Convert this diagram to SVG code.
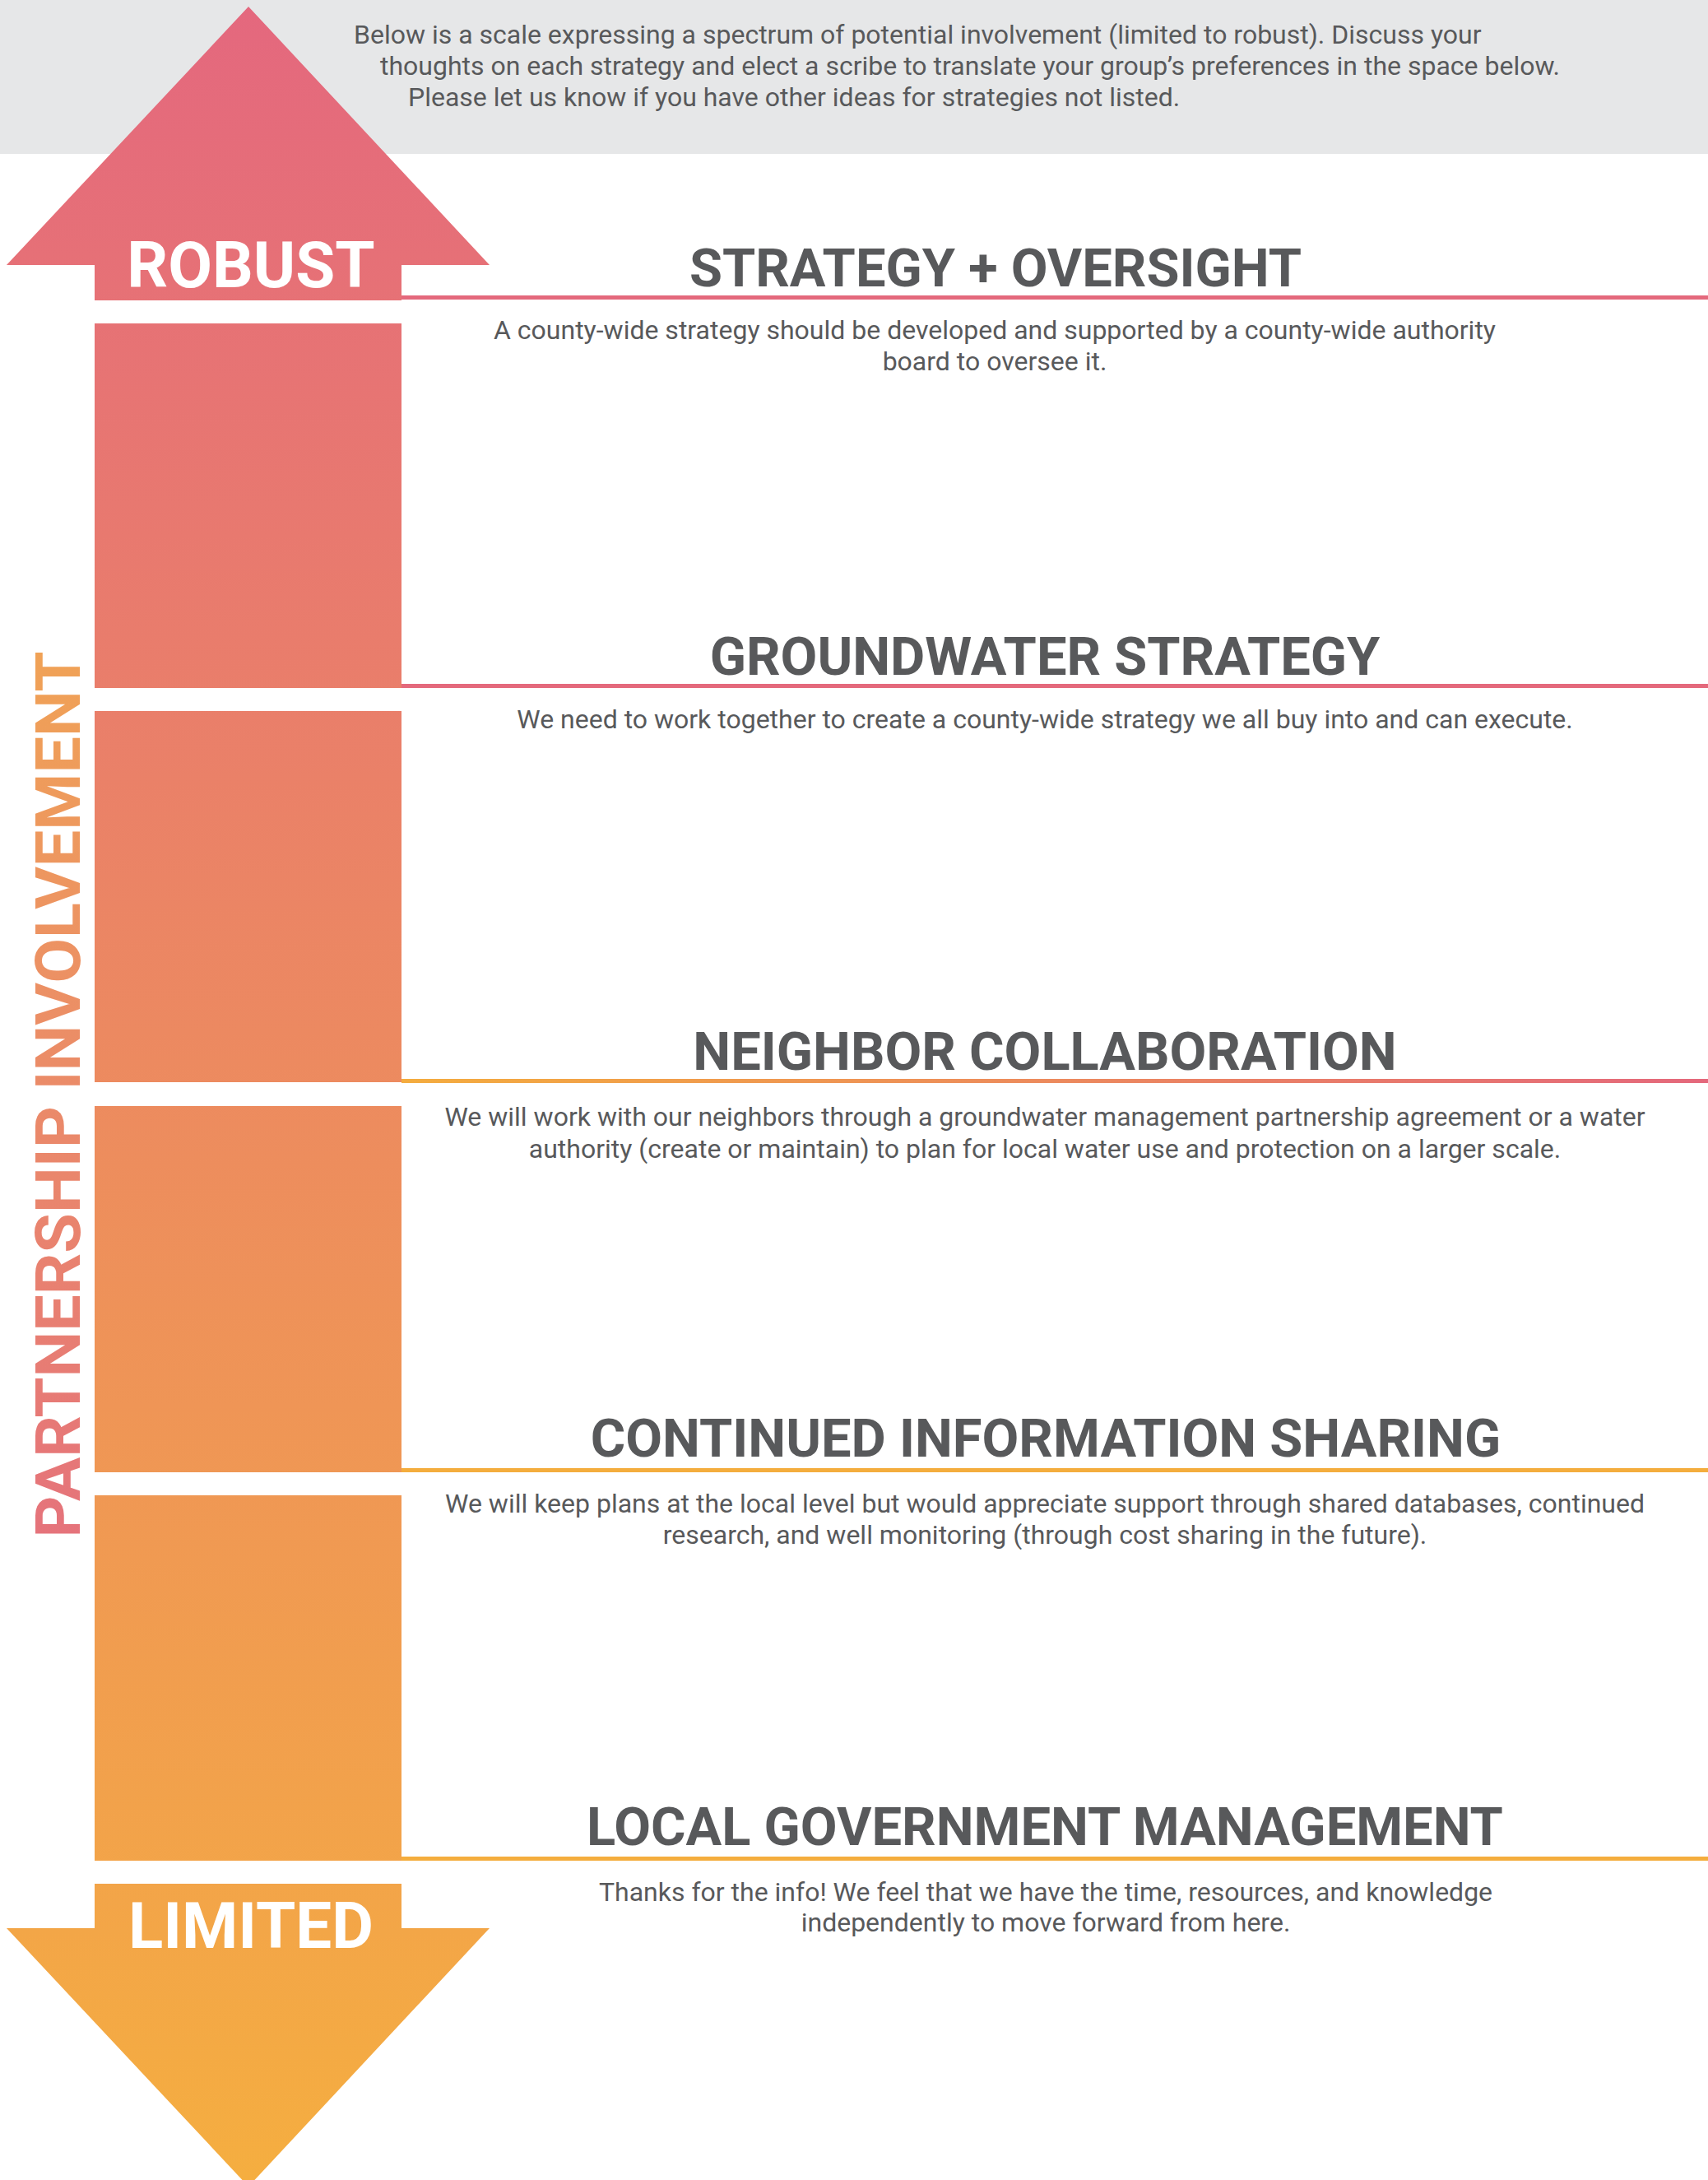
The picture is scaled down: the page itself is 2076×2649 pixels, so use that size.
<svg xmlns="http://www.w3.org/2000/svg" width="2076" height="2649" viewBox="0 0 2076 2649">
  <defs>
    <linearGradient id="col" gradientUnits="userSpaceOnUse" x1="0" y1="8" x2="0" y2="2649">
      <stop offset="0" stop-color="#e4687e"/>
      <stop offset="1" stop-color="#f5ae40"/>
    </linearGradient>
    <linearGradient id="vtext" gradientUnits="userSpaceOnUse" x1="-538" y1="0" x2="538" y2="0">
      <stop offset="0" stop-color="#e5737b"/>
      <stop offset="1" stop-color="#f0a256"/>
    </linearGradient>
    <linearGradient id="mix" x1="0" y1="0" x2="1" y2="0">
      <stop offset="0" stop-color="#f4ac3e"/>
      <stop offset="1" stop-color="#e4687c"/>
    </linearGradient>
    <style>
      .hd{font-family:Roboto,"Liberation Sans",sans-serif;font-weight:700;font-size:65px;fill:#58595b;text-anchor:middle}
      .ds{font-family:Roboto,"Liberation Sans",sans-serif;font-weight:400;font-size:32px;fill:#58595b;text-anchor:middle}
      .intro{font-family:Roboto,"Liberation Sans",sans-serif;font-weight:400;font-size:32px;fill:#58595b}
      .lbl{font-family:Roboto,"Liberation Sans",sans-serif;font-weight:700;font-size:78px;fill:#ffffff;text-anchor:middle}
      .pink{fill:#e4697c}
      .orange{fill:#f4ad3d}
    </style>
  </defs>

  <g id="header">
    <rect x="0" y="0" width="2076" height="187" fill="#e6e7e8"/>
    <text class="intro" x="430" y="53">Below is a scale expressing a spectrum of potential involvement (limited to robust). Discuss your</text>
    <text class="intro" x="462" y="91">thoughts on each strategy and elect a scribe to translate your group’s preferences in the space below.</text>
    <text class="intro" x="496" y="129">Please let us know if you have other ideas for strategies not listed.</text>
  </g>

  <g id="scale" fill="url(#col)">
    <polygon id="arrow-up" points="302,8 595,322 488,322 488,365 115,365 115,322 8,322"/>
    <rect x="115" y="393" width="373" height="443"/>
    <rect x="115" y="864" width="373" height="451"/>
    <rect x="115" y="1344" width="373" height="445"/>
    <rect x="115" y="1817" width="373" height="444"/>
    <polygon id="arrow-down" points="115,2289 488,2289 488,2343 595,2343 302,2657 8,2343 115,2343"/>
  </g>
  <text class="lbl" x="305" y="349">ROBUST</text>
  <text class="lbl" x="305" y="2367" font-size="80">LIMITED</text>

  <text id="axis-label" transform="translate(97,1330) rotate(-90)" font-family="Roboto, 'Liberation Sans', sans-serif" font-weight="700" font-size="76" text-anchor="middle" fill="url(#vtext)" textLength="1077" lengthAdjust="spacingAndGlyphs">PARTNERSHIP INVOLVEMENT</text>

  <g id="connectors">
    <rect class="pink" x="488" y="359" width="1588" height="5"/>
    <rect class="pink" x="488" y="831" width="1588" height="5"/>
    <rect fill="url(#mix)" x="488" y="1311" width="1588" height="5"/>
    <rect class="orange" x="488" y="1784" width="1588" height="5"/>
    <rect class="orange" x="488" y="2256" width="1588" height="5"/>
  </g>

  <g id="strategy-oversight">
    <text class="hd" x="1210" y="348">STRATEGY + OVERSIGHT</text>
    <text class="ds" x="1209" y="412">A county-wide strategy should be developed and supported by a county-wide authority</text>
    <text class="ds" x="1209" y="450">board to oversee it.</text>
  </g>
  <g id="groundwater-strategy">
    <text class="hd" x="1270" y="820">GROUNDWATER STRATEGY</text>
    <text class="ds" x="1270" y="885">We need to work together to create a county-wide strategy we all buy into and can execute.</text>
  </g>
  <g id="neighbor-collaboration">
    <text class="hd" x="1270" y="1300">NEIGHBOR COLLABORATION</text>
    <text class="ds" x="1270" y="1368">We will work with our neighbors through a groundwater management partnership agreement or a water</text>
    <text class="ds" x="1270" y="1407">authority (create or maintain) to plan for local water use and protection on a larger scale.</text>
  </g>
  <g id="continued-information-sharing">
    <text class="hd" x="1271" y="1770">CONTINUED INFORMATION SHARING</text>
    <text class="ds" x="1270" y="1838">We will keep plans at the local level but would appreciate support through shared databases, continued</text>
    <text class="ds" x="1270" y="1876">research, and well monitoring (through cost sharing in the future).</text>
  </g>
  <g id="local-government-management">
    <text class="hd" x="1270" y="2242">LOCAL GOVERNMENT MANAGEMENT</text>
    <text class="ds" x="1271" y="2310">Thanks for the info! We feel that we have the time, resources, and knowledge</text>
    <text class="ds" x="1271" y="2347">independently to move forward from here.</text>
  </g>
</svg>
